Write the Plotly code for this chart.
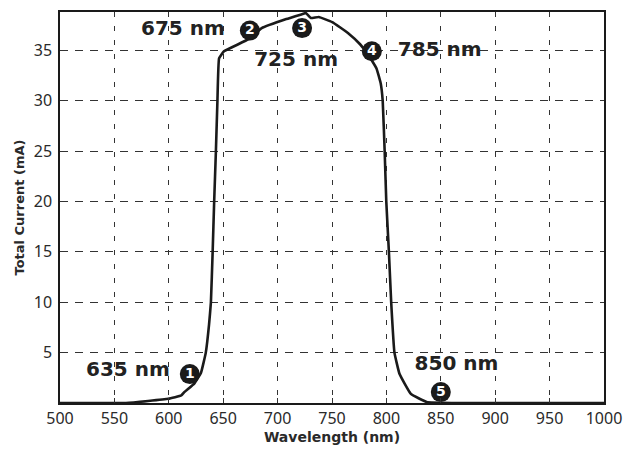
import plotly.graph_objects as go

# Photocurrent response vs. wavelength
wavelength_nm = [500, 540, 560.6, 581, 599.5, 611.5, 614.5, 623.6, 629.6, 634, 637, 638.7, 640.3, 641.7,
                 643.3, 644.7, 646.2, 650.7, 673.3, 685.4, 708, 723, 726, 730.6, 737.8, 750.2,
                 764.9, 775.8, 783, 790.9, 794.8, 796.6, 798.4, 799.9, 802.3, 804.4, 807.4,
                 812, 822.5, 837, 860, 1000]
total_current_ma = [0, 0, 0, 0.2, 0.42, 0.75, 1.1, 1.95, 3.0, 5.0, 7.8, 10, 15, 20,
                    25, 30, 34.2, 34.9, 36.1, 37.2, 38.1, 38.6, 38.7, 38.2, 38.3, 37.8,
                    36.7, 35.6, 34.6, 33.2, 31.7, 30, 25, 20, 15, 10, 5,
                    2.9, 0.9, 0.1, 0, 0]

# Marked points (numbered bullets) and their wavelength captions
marker_nums = ["1", "2", "3", "4", "5"]
marker_x = [619.3, 674.5, 722.5, 786.6, 850]
marker_y = [2.87, 36.96, 37.2, 34.9, 1.08]

caption_text = ["635 nm", "675 nm", "725 nm", "785 nm", "850 nm"]
caption_x = [562.4, 613, 717, 849, 864.4]
caption_y = [3.14, 37.06, 33.9, 34.9, 3.73]

x_ticks = list(range(500, 1001, 50))
y_ticks = list(range(5, 36, 5))

fig = go.Figure()

fig.add_trace(go.Scatter(
    x=wavelength_nm, y=total_current_ma, mode="lines",
    line=dict(color="#1a1a1a", width=2.6, shape="spline", smoothing=0.3),
    hoverinfo="skip", showlegend=False,
))

fig.add_trace(go.Scatter(
    x=marker_x, y=marker_y, mode="markers+text",
    marker=dict(color="#1a1a1a", size=20),
    text=[f"<b>{n}</b>" for n in marker_nums], textposition="middle center",
    textfont=dict(family="DejaVu Sans", size=14, color="white"),
    hoverinfo="skip", showlegend=False,
))

fig.add_trace(go.Scatter(
    x=caption_x, y=caption_y, mode="text",
    text=[f"<b>{t}</b>" for t in caption_text], textposition="middle center",
    textfont=dict(family="DejaVu Sans", size=20, color="#222222"),
    hoverinfo="skip", showlegend=False,
))

axis_common = dict(
    showline=True, linecolor="#1a1a1a", linewidth=1.5, mirror=True,
    gridcolor="#333333", gridwidth=1, zeroline=False,
    tickfont=dict(family="Noto Sans", size=16, color="#2a2a2a"),
)

fig.update_xaxes(
    range=[500, 1000], tickvals=x_ticks, ticktext=[str(v) for v in x_ticks],
    griddash="5px,9px", ticks="inside", ticklen=5, tickcolor="#333333",
    title=dict(text="<b>Wavelength (nm)</b>", font=dict(family="DejaVu Sans", size=14, color="#2a2a2a"),
               standoff=4),
    **axis_common,
)
fig.update_yaxes(
    range=[0, 38.8], tickvals=y_ticks, ticktext=[str(v) for v in y_ticks],
    griddash="8px,7px", ticks="", ticklabelstandoff=3,
    title=dict(text="<b>Total Current (mA)</b>", font=dict(family="DejaVu Sans", size=13, color="#2a2a2a"),
               standoff=6),
    **axis_common,
)

fig.update_layout(
    width=632, height=453,
    margin=dict(l=60, r=19, t=10, b=47),
    paper_bgcolor="white", plot_bgcolor="white",
)

fig.write_html("out.html")
